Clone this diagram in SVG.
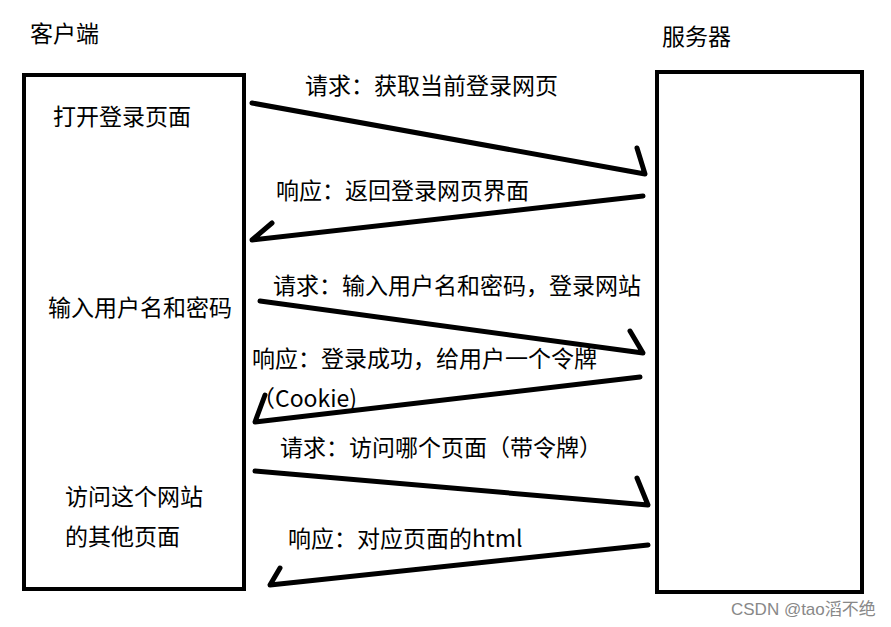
<svg xmlns="http://www.w3.org/2000/svg" width="891" height="627" viewBox="0 0 891 627">
<style>
text{font-family:"Noto Sans CJK SC","Noto Sans",sans-serif;font-size:23px;fill:#000}
.box{fill:#fff;stroke:#000;stroke-width:4}
.ln{fill:none;stroke:#000;stroke-width:5;stroke-linecap:round;stroke-linejoin:round}
.wm{font-family:"Liberation Sans","Noto Sans CJK SC",sans-serif;font-size:17px;fill:#888}
</style>
<rect width="891" height="627" fill="#fff"/>
<g id="client">
<rect class="box" x="24" y="75" width="220" height="514"/>
<text x="30" y="42">客户端</text>
<text x="53" y="125">打开登录页面</text>
<text x="48" y="316">输入用户名和密码</text>
<text x="65" y="505">访问这个网站</text>
<text x="65" y="545">的其他页面</text>
</g>
<g id="server">
<rect class="box" x="657" y="72" width="205" height="520"/>
<text x="662" y="45">服务器</text>
</g>
<g id="connectors">
<path class="ln" d="M252 103 L645 174 L637 148"/>
<path class="ln" d="M643 196 L252 240 L272 223"/>
<path class="ln" d="M260 301 L643 353 L630 331"/>
<path class="ln" d="M640 377 L255 422 L265 395"/>
<path class="ln" d="M255 471 L648 505 L637 478"/>
<path class="ln" d="M648 545 L270 585 L280 568"/>
</g>
<g id="labels">
<text x="305" y="94">请求：获取当前登录网页</text>
<text x="276" y="199">响应：返回登录网页界面</text>
<text x="273" y="294">请求：输入用户名和密码，登录网站</text>
<text x="252" y="367">响应：登录成功，给用户一个令牌</text>
<text x="252" y="407">（Cookie)</text>
<text x="280" y="456">请求：访问哪个页面（带令牌）</text>
<text x="288" y="547">响应：对应页面的html</text>
</g>
<text class="wm" x="731" y="615">CSDN @tao滔不绝</text>
</svg>
